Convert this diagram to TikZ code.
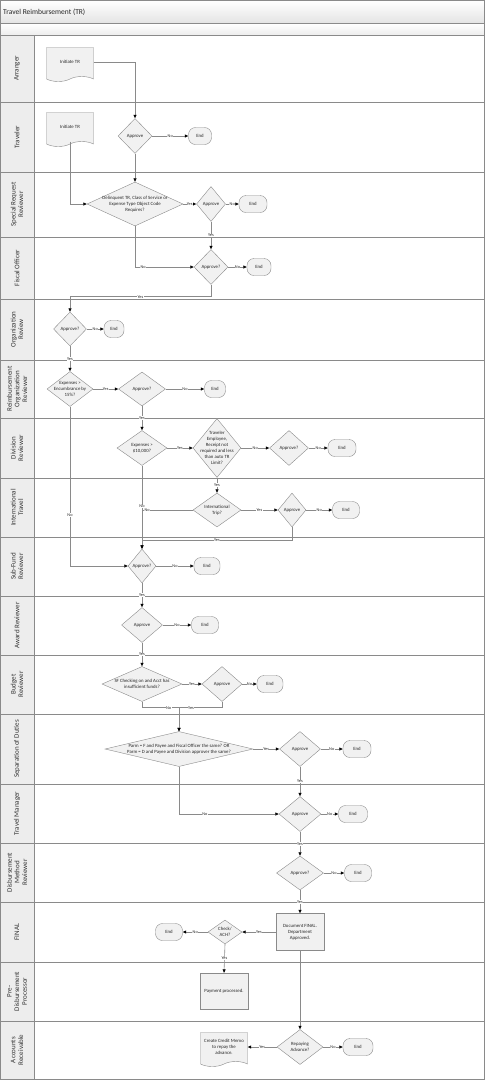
\documentclass[tikz,border=0pt]{standalone}
\usepackage{fontspec}
\setmainfont{Carlito}
\usetikzlibrary{shapes.geometric,shapes.symbols,arrows.meta}
\definecolor{line-gray}{HTML}{8A8A8A}
\definecolor{lane-gray}{HTML}{EDEDED}
\definecolor{title-gray}{HTML}{E4E4E4}
\definecolor{shape-gray}{HTML}{F1F1F1}
\tikzset{
    lane-line/.style = {draw=line-gray, line width=0.8pt},
    lane-label/.style = {rotate=90, align=center, font=\fontsize{7}{7.6}\selectfont, text=black!80, inner sep=0pt},
    title-text/.style = {font=\fontsize{7.5}{8}\selectfont, text=black!85, inner sep=0pt},
    node-text/.style = {font=\fontsize{4.8}{6}\selectfont, align=center, text=black!85},
    decision-box/.style = {node-text, diamond, draw=line-gray, fill=shape-gray, inner xsep=-60pt, inner ysep=-20pt, aspect=1},
    end-box/.style = {node-text, rectangle, draw=line-gray, fill=shape-gray, rounded corners=7pt, minimum width=24pt, minimum height=17pt, inner sep=0pt},
    process-box/.style = {node-text, rectangle, draw=line-gray, fill=shape-gray, minimum width=48pt, inner sep=1pt},
    doc-box/.style = {node-text, tape, tape bend top=none, tape bend bottom=in and out, tape bend height=5pt, draw=line-gray, fill=shape-gray, minimum width=47pt, minimum height=34pt, inner sep=1pt},
    flow-line/.style = {draw=line-gray, line width=0.6pt},
    flow/.style = {flow-line, -{Triangle[length=3.5pt, width=3pt, color=black]}},
    flow-label/.style = {font=\fontsize{4.3}{4.3}\selectfont, fill=white, inner sep=0.4pt, text=black!85},
}
\begin{document}
\begin{tikzpicture}[x=1pt, y=-1pt]
\useasboundingbox (0,0) rectangle (485,1080);
\shadedraw[top color=white, bottom color=title-gray, lane-line] (0.5,0.5) rectangle (484,23);
\shadedraw[top color=white, bottom color=lane-gray, lane-line] (0.5,23) rectangle (484,35);
\node[title-text, anchor=west] (title) at (3,12) {Travel Reimbursement (TR)};
\foreach \ya/\yb/\lname [count=\i] in {35/102/Arranger, 102/172/Traveler, 172/237/{Special Request\\Reviewer}, 237/299/Fiscal Officer, 299/360/{Organization\\Review}, 360/418/{Reimbursement\\Organization\\Reviewer}, 418/478/{Division\\Reviewer}, 478/537/{International\\Travel}, 537/596/{Sub-Fund\\Reviewer}, 596/655/Award Reviewer, 655/714/{Budget\\Reviewer}, 714/784/Separation of Duties, 784/843/Travel Manager, 843/902/{Disbursement\\Method\\Reviewer}, 902/962/FINAL, 962/1021/{Pre-\\Disbursement\\Processor}, 1021/1079/{Accounts\\Receivable}}{
    \draw[lane-line, fill=lane-gray] (0.5,\ya) rectangle (34,\yb);
    \draw[lane-line] (34,\ya) rectangle (484,\yb);
    \node[lane-label] (lane-\i) at (17,{(\ya+\yb)/2}) {\lname};
}

\node[doc-box] (arr-init) at (70,62) {Initiate TR};
\node[doc-box] (trav-init) at (70,127) {Initiate TR};
\node[decision-box, minimum width=34pt, minimum height=35pt] (trav-approve) at (135,136) {Approve};
\node[end-box, minimum width=23pt] (trav-end) at (200,136) {End};
\node[decision-box, minimum width=96pt, minimum height=44pt] (srr-check) at (135,204) {Delinquent TR, Class of Service or\\Expense Type Object Code\\Requires?};
\node[decision-box, minimum width=29pt, minimum height=35pt] (srr-approve) at (211,204) {Approve};
\node[end-box, minimum width=28pt] (srr-end) at (253,204) {End};
\node[decision-box, minimum width=34pt, minimum height=35pt] (fo-approve) at (211,267) {Approve?};
\node[end-box] (fo-end) at (259,267) {End};
\node[decision-box, minimum width=33pt, minimum height=34pt] (or-approve) at (70,329) {Approve?};
\node[end-box, minimum width=20pt] (or-end) at (114,329) {End};
\node[decision-box, minimum width=46pt, minimum height=35pt] (ror-check) at (70,389) {Expenses >\\Encumbrance by\\15\%?};
\node[decision-box, minimum width=47pt, minimum height=34pt] (ror-approve) at (142,389) {Approve?};
\node[end-box, minimum width=21pt] (ror-end) at (215,389) {End};
\node[decision-box, minimum width=50pt, minimum height=35pt] (dr-check) at (142,448) {Expenses >\\\$10,000?};
\node[decision-box, minimum width=48pt, minimum height=59pt] (dr-traveler) at (217,448) {Traveler\\Employee,\\Receipt not\\required and less\\than auto TR\\Limit?};
\node[decision-box, minimum width=39pt, minimum height=35pt] (dr-approve) at (289,448) {Approve?};
\node[end-box, minimum width=28pt] (dr-end) at (342,448) {End};
\node[decision-box, minimum width=48pt, minimum height=34pt] (it-check) at (217,510) {International\\Trip?};
\node[decision-box, minimum width=28pt, minimum height=34pt] (it-approve) at (292,510) {Approve};
\node[end-box, minimum width=27pt] (it-end) at (346,510) {End};
\node[decision-box, minimum width=28pt, minimum height=34pt] (sf-approve) at (142,566) {Approve?};
\node[end-box, minimum width=26pt] (sf-end) at (207,566) {End};
\node[decision-box, minimum width=41pt, minimum height=35pt] (ar-approve) at (142,625) {Approve};
\node[end-box, minimum width=27pt] (ar-end) at (205,625) {End};
\node[decision-box, minimum width=80pt, minimum height=35pt] (br-check) at (142,684) {SF Checking on and Acct has\\insufficient funds?};
\node[decision-box, minimum width=40pt, minimum height=35pt] (br-approve) at (222,684) {Approve};
\node[end-box, minimum width=26pt] (br-end) at (270,684) {End};
\node[decision-box, minimum width=148pt, minimum height=35pt] (sd-check) at (179,749) {Parm = F and Payee and Fiscal Officer the same? OR\\Parm = D and Payee and Division approver the same?};
\node[decision-box, minimum width=41pt, minimum height=35pt] (sd-approve) at (300,749) {Approve};
\node[end-box, minimum width=28pt] (sd-end) at (357,749) {End};
\node[decision-box, minimum width=42pt, minimum height=35pt] (tm-approve) at (300,814) {Approve};
\node[end-box, minimum width=29pt] (tm-end) at (353,814) {End};
\node[decision-box, minimum width=47pt, minimum height=34pt] (dm-approve) at (300,873) {Approve?};
\node[end-box, minimum width=27pt] (dm-end) at (358,873) {End};
\node[process-box, minimum height=37pt] (fin-doc) at (300,932) {Document FINAL.\\Department\\Approved.};
\node[decision-box, minimum width=34pt, minimum height=24pt] (fin-check) at (225,932) {Check/\\ACH?};
\node[end-box, minimum width=27pt] (fin-end) at (169,932) {End};
\node[process-box, minimum height=36pt] (pdp-pay) at (224,991) {Payment processed.};
\node[decision-box, minimum width=46pt, minimum height=35pt] (acr-repay) at (300,1047) {Repaying\\Advance?};
\node[doc-box] (acr-memo) at (224,1047) {Create Credit Memo\\to repay the\\advance.};
\node[end-box, minimum width=30pt] (acr-end) at (358,1047) {End};

\draw[flow] (arr-init.east) -| (trav-approve.north);
\draw[flow] (trav-approve.east) -- node[flow-label]{No} (trav-end.west);
\draw[flow] (trav-approve.south) -- (srr-check.north);
\draw[flow] (trav-init.south) |- (srr-check.west);
\draw[flow] (srr-check.east) -- node[flow-label]{Yes} (srr-approve.west);
\draw[flow] (srr-approve.east) -- node[flow-label]{No} (srr-end.west);
\draw[flow] (srr-approve.south) -- node[flow-label]{Yes} (fo-approve.north);
\draw[flow] (srr-check.south) |- node[flow-label, pos=0.57]{No} (fo-approve.west);
\draw[flow] (fo-approve.east) -- node[flow-label]{No} (fo-end.west);
\draw[flow] (fo-approve.south) -- ++(0,12) -| node[flow-label, pos=0.25]{Yes} (or-approve.north);
\draw[flow] (or-approve.east) -- node[flow-label]{No} (or-end.west);
\draw[flow] (or-approve.south) -- node[flow-label]{Yes} (ror-check.north);
\draw[flow] (ror-check.east) -- node[flow-label]{Yes} (ror-approve.west);
\draw[flow] (ror-approve.east) -- node[flow-label]{No} (ror-end.west);
\draw[flow] (ror-approve.south) -- node[flow-label]{Yes} (dr-check.north);
\draw[flow] (ror-check.south) |- node[flow-label, pos=0.34]{No} (sf-approve.west);
\draw[flow] (dr-check.east) -- node[flow-label]{Yes} (dr-traveler.west);
\draw[flow] (dr-traveler.east) -- node[flow-label]{No} (dr-approve.west);
\draw[flow] (dr-approve.east) -- node[flow-label]{No} (dr-end.west);
\draw[flow] (dr-traveler.south) -- node[flow-label]{Yes} (it-check.north);
\draw[flow] (dr-check.south) -- node[flow-label, pos=0.49]{No} (sf-approve.north);
\draw[flow-line] (it-check.west) -- node[flow-label, pos=0.9]{No} (dr-check.south |- it-check.west);
\draw[flow] (it-check.east) -- node[flow-label]{Yes} (it-approve.west);
\draw[flow] (it-approve.east) -- node[flow-label]{No} (it-end.west);
\draw[flow] (it-approve.south) -- ++(0,13) -| node[flow-label, pos=0.25]{Yes} (sf-approve.north);
\draw[flow] (sf-approve.east) -- node[flow-label]{No} (sf-end.west);
\draw[flow] (sf-approve.south) -- node[flow-label]{Yes} (ar-approve.north);
\draw[flow] (ar-approve.east) -- node[flow-label]{No} (ar-end.west);
\draw[flow] (ar-approve.south) -- node[flow-label]{Yes} (br-check.north);
\draw[flow] (br-check.east) -- node[flow-label]{Yes} (br-approve.west);
\draw[flow] (br-approve.east) -- node[flow-label]{No} (br-end.west);
\draw[flow] (br-check.south) -- ++(0,6) -| node[flow-label, pos=0.36]{No} (sd-check.north);
\draw[flow] (br-approve.south) -- ++(0,6) -| node[flow-label, pos=0.36]{Yes} (sd-check.north);
\draw[flow] (sd-check.east) -- node[flow-label]{Yes} (sd-approve.west);
\draw[flow] (sd-approve.east) -- node[flow-label]{No} (sd-end.west);
\draw[flow] (sd-approve.south) -- node[flow-label]{Yes} (tm-approve.north);
\draw[flow] (sd-check.south) |- node[flow-label, pos=0.63]{No} (tm-approve.west);
\draw[flow] (tm-approve.east) -- node[flow-label]{No} (tm-end.west);
\draw[flow] (tm-approve.south) -- node[flow-label]{Yes} (dm-approve.north);
\draw[flow] (dm-approve.east) -- node[flow-label]{No} (dm-end.west);
\draw[flow] (dm-approve.south) -- node[flow-label]{Yes} (fin-doc.north);
\draw[flow] (fin-doc.west) -- node[flow-label]{Yes} (fin-check.east);
\draw[flow] (fin-check.west) -- node[flow-label]{No} (fin-end.east);
\draw[flow] (fin-check.south) -- node[flow-label]{Yes} (pdp-pay.north);
\draw[flow] (fin-doc.south) -- (acr-repay.north);
\draw[flow] (acr-repay.west) -- node[flow-label]{Yes} (acr-memo.east);
\draw[flow] (acr-repay.east) -- node[flow-label]{No} (acr-end.west);
\end{tikzpicture}
\end{document}
